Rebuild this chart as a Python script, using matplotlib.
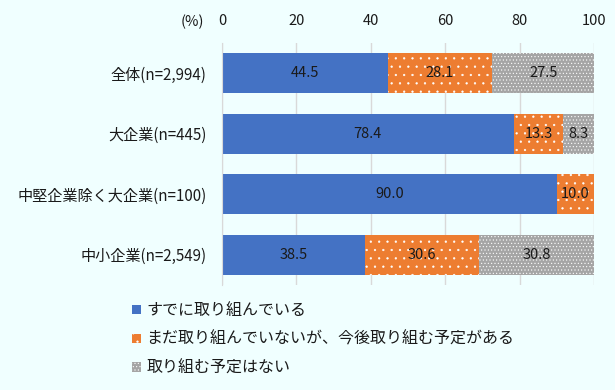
import matplotlib
matplotlib.use("Agg")
import matplotlib.pyplot as plt
import numpy as np

plt.rcParams['font.family'] = ['Noto Sans CJK JP', 'DejaVu Sans']
plt.rcParams['hatch.linewidth'] = 0.4

categories = ["全体(n=2,994)", "大企業(n=445)", "中堅企業除く大企業(n=100)", "中小企業(n=2,549)"]
series_names = ["すでに取り組んでいる", "まだ取り組んでいないが、今後取り組む予定がある", "取り組む予定はない"]
already = [44.5, 78.4, 90.0, 38.5]
planned = [28.1, 13.3, 10.0, 30.6]
none_ = [27.5, 8.3, 0.0, 30.8]
xticks = [0, 20, 40, 60, 80, 100]

colors = ["#4472C4", "#ED7D31", "#A5A5A5"]
hatches = [None, "..", "....."]
bg = "#F0FFFF"
txt = "#1a1a1a"

fig = plt.figure(figsize=(6.15, 3.9), dpi=100, facecolor=bg)
ax = fig.add_axes([0.361, 0.269, 0.605, 0.621], facecolor=bg)

y = np.arange(len(categories))
left = np.zeros(len(categories))
handles = []
for vals, c, h, name in zip([already, planned, none_], colors, hatches, series_names):
    vals = np.array(vals)
    bars = ax.barh(y, vals, left=left, height=0.66, color=c, hatch=h,
                   edgecolor="white" if h else c, linewidth=0, label=name, zorder=3)
    for i, b in enumerate(bars):
        if vals[i] > 0:
            ax.text(left[i] + vals[i] / 2, y[i], f"{vals[i]:.1f}", ha="center", va="center",
                    fontsize=10.5, color=txt, zorder=4)
    handles.append(bars)
    left = left + vals

ax.set_xlim(0, 100)
ax.set_ylim(3.5, -0.5)
ax.set_yticks(y)
ax.set_yticklabels(categories, fontsize=10.9, color=txt)
ax.set_xticks(xticks)
ax.set_xticklabels([str(t) for t in xticks], fontsize=10.5, color=txt)
ax.xaxis.tick_top()
ax.tick_params(axis="x", length=0, pad=11)
ax.tick_params(axis="y", length=0, pad=11)
ax.grid(axis="x", color="#D9D9D9", linewidth=1, zorder=0)
for s in ["top", "right", "bottom"]:
    ax.spines[s].set_visible(False)
ax.spines["left"].set_color("#D9D9D9")
ax.spines["left"].set_zorder(5)

fig.text(192 / 615, 1 - 22 / 390, "(%)", ha="center", va="center", fontsize=10.5, color=txt)

leg = fig.legend(handles=handles, labels=series_names, loc="upper left",
                 bbox_to_anchor=(132 / 615, 1 - 302 / 390), frameon=False,
                 fontsize=11.5, handlelength=0.55, handleheight=0.55, handletextpad=0.35,
                 labelspacing=0.75, borderaxespad=0, borderpad=0)
for t in leg.get_texts():
    t.set_color(txt)

fig.savefig("out.png", dpi=100, facecolor=bg)
